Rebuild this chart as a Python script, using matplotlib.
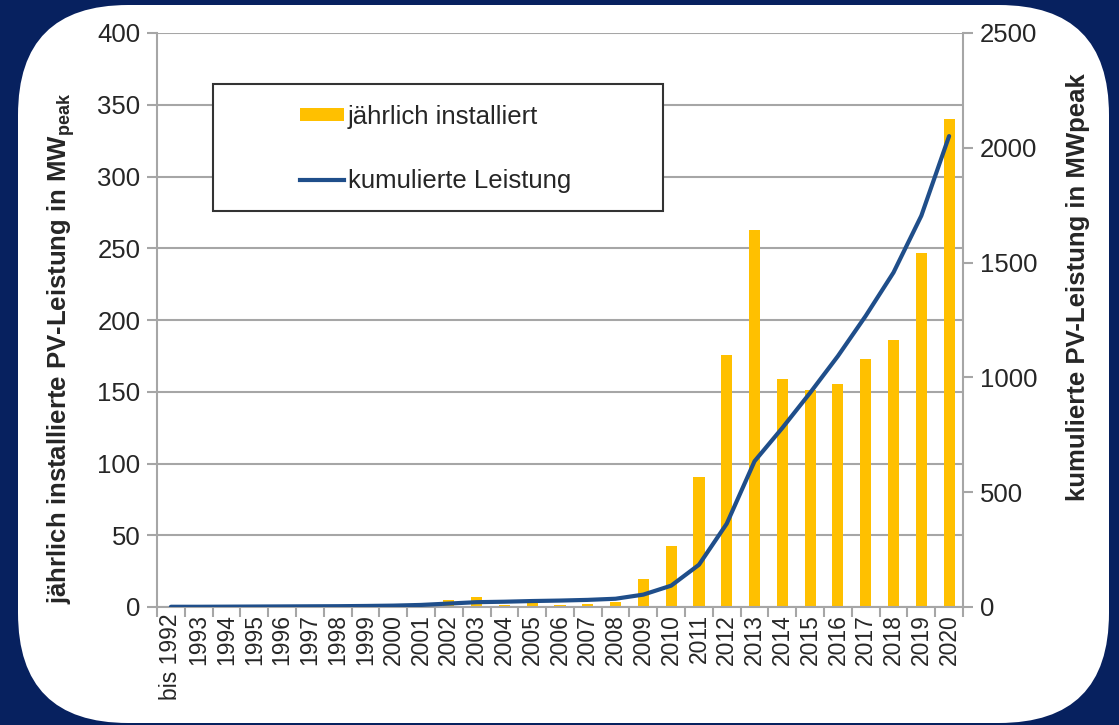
import matplotlib
matplotlib.use("Agg")
import matplotlib.pyplot as plt
import numpy as np
from matplotlib.patches import FancyBboxPatch, Rectangle, Patch
from matplotlib.lines import Line2D

plt.rcParams["font.family"] = ["Liberation Sans", "DejaVu Sans"]
plt.rcParams["mathtext.fontset"] = "custom"
plt.rcParams["mathtext.rm"] = "Liberation Sans"
plt.rcParams["mathtext.bf"] = "Liberation Sans:bold"

# data
categories = ["bis 1992", "1993", "1994", "1995", "1996", "1997", "1998", "1999",
              "2000", "2001", "2002", "2003", "2004", "2005", "2006", "2007",
              "2008", "2009", "2010", "2011", "2012", "2013", "2014", "2015",
              "2016", "2017", "2018", "2019", "2020"]
annual = [0.3, 0.3, 0.4, 0.4, 0.5, 0.5, 0.6, 0.8, 1.2, 1.5, 4.7, 6.8, 1.3, 2.6,
          1.5, 2.0, 3.7, 19.6, 42.3, 90.8, 175.7, 263, 158.7, 151, 155.2, 172.7,
          186, 247, 340]
cumulative = [1, 1, 1.5, 2, 2.5, 3, 3.5, 4.5, 6, 9, 15, 21, 23, 26, 28, 31, 36,
              54, 93, 184, 363, 635, 780, 933, 1093, 1268, 1457, 1704, 2051]
left_ticks = [0, 50, 100, 150, 200, 250, 300, 350, 400]
right_ticks = [0, 500, 1000, 1500, 2000, 2500]

NAVY = "#07215f"
BAR = "#ffc000"
LINE = "#1f4e8a"
GRID = "#a6a6a6"
TEXT = "#262626"
FS = 18.5

W, H = 1119, 725
fig = plt.figure(figsize=(W / 100, H / 100), dpi=100, facecolor=NAVY)

# white rounded panel
panel = FancyBboxPatch((0.18, 0.02), 10.91, 7.18,
                       boxstyle="round,pad=0,rounding_size=1.1",
                       transform=fig.dpi_scale_trans,
                       facecolor="white", edgecolor="none", zorder=-1)
fig.patches.append(panel)

ax = fig.add_axes([157 / W, 1 - 607 / H, (963 - 157) / W, (607 - 33) / H])
ax.set_facecolor("none")
x = np.arange(len(categories))
ax.bar(x, annual, width=0.4, color=BAR, zorder=2)
ax.set_xlim(-0.5, len(categories) - 0.5)
ax.set_ylim(0, 400)
ax.set_yticks(left_ticks)
ax.yaxis.grid(True, color=GRID, linewidth=1.5)
ax.set_axisbelow(True)
ax.tick_params(axis="y", direction="out", length=7, width=1.5, color=GRID,
               labelsize=FS, labelcolor=TEXT, pad=5)
ax.set_xticks(x)
ax.set_xticklabels(categories, rotation=90, fontsize=16.5, color=TEXT)
ax.set_xticks(np.arange(len(categories) + 1) - 0.5, minor=True)
ax.tick_params(axis="x", which="major", length=0, pad=5)
ax.tick_params(axis="x", which="minor", direction="out", length=7, width=1.5,
               color=GRID)
ax.spines["top"].set_visible(False)
for s in ("left", "right", "bottom"):
    ax.spines[s].set_color(GRID)
    ax.spines[s].set_linewidth(1.5)

ax2 = ax.twinx()
ax2.plot(x, cumulative, color=LINE, linewidth=3.0, solid_capstyle="round",
         solid_joinstyle="round")
ax2.set_ylim(0, 2500)
ax2.set_yticks(right_ticks)
ax2.tick_params(axis="y", direction="out", length=7, width=1.5, color=GRID,
                labelsize=FS, labelcolor=TEXT, pad=5)
for s in ax2.spines.values():
    s.set_visible(False)

fig.text(61 / W, 1 - 348 / H,
         r"jährlich installierte PV-Leistung in MW$_{\mathbf{peak}}$",
         rotation=90, ha="center", va="center", fontsize=FS,
         fontweight="bold", color=TEXT)
fig.text(1078 / W, 1 - 287 / H, "kumulierte PV-Leistung in MWpeak",
         rotation=90, ha="center", va="center", fontsize=FS,
         fontweight="bold", color=TEXT)

# legend box
box = Rectangle((213 / W, 1 - 211 / H), (663 - 213) / W, (211 - 84) / H,
                transform=fig.transFigure, facecolor="white",
                edgecolor="#333333", linewidth=1.5, zorder=4)
fig.add_artist(box)
handles = [Patch(facecolor=BAR, edgecolor="none"),
           Line2D([], [], color=LINE, linewidth=3.0)]
leg = fig.legend(handles, ["jährlich installiert", "kumulierte Leistung"],
                 loc="upper left", bbox_to_anchor=(300 / W, 1 - 105 / H),
                 frameon=False, fontsize=FS, handlelength=1.7,
                 handleheight=0.4, handletextpad=0.15, labelspacing=1.55,
                 borderpad=0, borderaxespad=0)
leg.set_zorder(5)
for t in leg.get_texts():
    t.set_color(TEXT)

fig.savefig("out.png", dpi=100, facecolor=NAVY)
